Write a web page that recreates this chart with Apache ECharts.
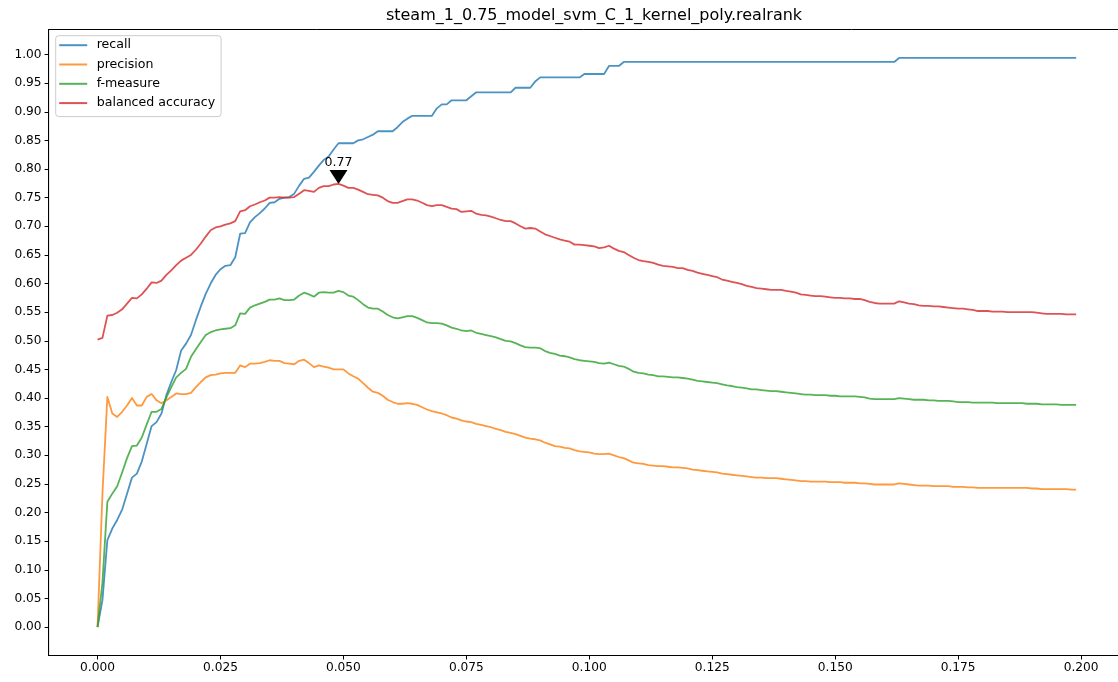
<!DOCTYPE html>
<html>
<head>
<meta charset="utf-8">
<title>steam_1_0.75_model_svm_C_1_kernel_poly.realrank</title>
<script src="https://cdn.jsdelivr.net/npm/echarts@6/dist/echarts.min.js"></script>
<style>
  html, body { margin: 0; padding: 0; background: #fff; }
  #chart { width: 1118px; height: 682px; }
</style>
</head>
<body>
<div id="chart"></div>
<script>
// Threshold (fraction of ranked items) on the x axis
const thresholds = [
  0.000, 0.001, 0.002, 0.003, 0.004, 0.005, 0.006, 0.007, 0.008, 0.009,
  0.010, 0.011, 0.012, 0.013, 0.014, 0.015, 0.016, 0.017, 0.018, 0.019,
  0.020, 0.021, 0.022, 0.023, 0.024, 0.025, 0.026, 0.027, 0.028, 0.029,
  0.030, 0.031, 0.032, 0.033, 0.034, 0.035, 0.036, 0.037, 0.038, 0.039,
  0.040, 0.041, 0.042, 0.043, 0.044, 0.045, 0.046, 0.047, 0.048, 0.049,
  0.050, 0.051, 0.052, 0.053, 0.054, 0.055, 0.056, 0.057, 0.058, 0.059,
  0.060, 0.061, 0.062, 0.063, 0.064, 0.065, 0.066, 0.067, 0.068, 0.069,
  0.070, 0.071, 0.072, 0.073, 0.074, 0.075, 0.076, 0.077, 0.078, 0.079,
  0.080, 0.081, 0.082, 0.083, 0.084, 0.085, 0.086, 0.087, 0.088, 0.089,
  0.090, 0.091, 0.092, 0.093, 0.094, 0.095, 0.096, 0.097, 0.098, 0.099,
  0.100, 0.101, 0.102, 0.103, 0.104, 0.105, 0.106, 0.107, 0.108, 0.109,
  0.110, 0.111, 0.112, 0.113, 0.114, 0.115, 0.116, 0.117, 0.118, 0.119,
  0.120, 0.121, 0.122, 0.123, 0.124, 0.125, 0.126, 0.127, 0.128, 0.129,
  0.130, 0.131, 0.132, 0.133, 0.134, 0.135, 0.136, 0.137, 0.138, 0.139,
  0.140, 0.141, 0.142, 0.143, 0.144, 0.145, 0.146, 0.147, 0.148, 0.149,
  0.150, 0.151, 0.152, 0.153, 0.154, 0.155, 0.156, 0.157, 0.158, 0.159,
  0.160, 0.161, 0.162, 0.163, 0.164, 0.165, 0.166, 0.167, 0.168, 0.169,
  0.170, 0.171, 0.172, 0.173, 0.174, 0.175, 0.176, 0.177, 0.178, 0.179,
  0.180, 0.181, 0.182, 0.183, 0.184, 0.185, 0.186, 0.187, 0.188, 0.189,
  0.190, 0.191, 0.192, 0.193, 0.194, 0.195, 0.196, 0.197, 0.198, 0.199
];

const recall = [
  0.000, 0.047, 0.152, 0.172, 0.187, 0.205, 0.233, 0.261, 0.268, 0.289,
  0.320, 0.351, 0.358, 0.373, 0.405, 0.428, 0.449, 0.483, 0.495, 0.510,
  0.536, 0.560, 0.582, 0.600, 0.615, 0.625, 0.631, 0.632, 0.646, 0.687,
  0.688, 0.707, 0.716, 0.723, 0.731, 0.741, 0.742, 0.748, 0.750, 0.751,
  0.757, 0.771, 0.783, 0.785, 0.795, 0.806, 0.816, 0.822, 0.834, 0.845,
  0.845, 0.845, 0.845, 0.850, 0.852, 0.856, 0.860, 0.866, 0.866, 0.866,
  0.866, 0.873, 0.882, 0.888, 0.893, 0.893, 0.893, 0.893, 0.893, 0.906,
  0.913, 0.913, 0.920, 0.920, 0.920, 0.920, 0.927, 0.934, 0.934, 0.934,
  0.934, 0.934, 0.934, 0.934, 0.934, 0.942, 0.942, 0.942, 0.942, 0.953,
  0.960, 0.960, 0.960, 0.960, 0.960, 0.960, 0.960, 0.960, 0.960, 0.966,
  0.966, 0.966, 0.966, 0.966, 0.980, 0.980, 0.980, 0.987, 0.987, 0.987,
  0.987, 0.987, 0.987, 0.987, 0.987, 0.987, 0.987, 0.987, 0.987, 0.987,
  0.987, 0.987, 0.987, 0.987, 0.987, 0.987, 0.987, 0.987, 0.987, 0.987,
  0.987, 0.987, 0.987, 0.987, 0.987, 0.987, 0.987, 0.987, 0.987, 0.987,
  0.987, 0.987, 0.987, 0.987, 0.987, 0.987, 0.987, 0.987, 0.987, 0.987,
  0.987, 0.987, 0.987, 0.987, 0.987, 0.987, 0.987, 0.987, 0.987, 0.987,
  0.987, 0.987, 0.987, 0.994, 0.994, 0.994, 0.994, 0.994, 0.994, 0.994,
  0.994, 0.994, 0.994, 0.994, 0.994, 0.994, 0.994, 0.994, 0.994, 0.994,
  0.994, 0.994, 0.994, 0.994, 0.994, 0.994, 0.994, 0.994, 0.994, 0.994,
  0.994, 0.994, 0.994, 0.994, 0.994, 0.994, 0.994, 0.994, 0.994, 0.994
];

const precision = [
  0.000, 0.233, 0.402, 0.373, 0.367, 0.376, 0.387, 0.400, 0.387, 0.387,
  0.402, 0.407, 0.396, 0.391, 0.396, 0.402, 0.408, 0.407, 0.407, 0.409,
  0.419, 0.428, 0.436, 0.440, 0.441, 0.443, 0.444, 0.444, 0.444, 0.457,
  0.454, 0.460, 0.460, 0.461, 0.463, 0.466, 0.465, 0.465, 0.461, 0.460,
  0.459, 0.465, 0.467, 0.461, 0.454, 0.457, 0.455, 0.453, 0.450, 0.450,
  0.450, 0.443, 0.438, 0.434, 0.426, 0.418, 0.411, 0.409, 0.404, 0.397,
  0.393, 0.390, 0.390, 0.391, 0.390, 0.388, 0.384, 0.380, 0.377, 0.375,
  0.373, 0.370, 0.366, 0.364, 0.361, 0.359, 0.358, 0.355, 0.353, 0.351,
  0.349, 0.346, 0.344, 0.341, 0.339, 0.337, 0.334, 0.331, 0.329, 0.328,
  0.326, 0.322, 0.319, 0.316, 0.315, 0.313, 0.312, 0.309, 0.307, 0.306,
  0.305, 0.303, 0.302, 0.302, 0.303, 0.300, 0.297, 0.295, 0.291, 0.287,
  0.286, 0.285, 0.283, 0.282, 0.281, 0.281, 0.280, 0.279, 0.279, 0.278,
  0.277, 0.275, 0.274, 0.273, 0.272, 0.271, 0.270, 0.268, 0.267, 0.266,
  0.265, 0.264, 0.263, 0.262, 0.261, 0.261, 0.260, 0.260, 0.260, 0.259,
  0.258, 0.257, 0.256, 0.255, 0.255, 0.254, 0.254, 0.254, 0.254, 0.253,
  0.253, 0.253, 0.252, 0.252, 0.252, 0.251, 0.251, 0.250, 0.249, 0.249,
  0.249, 0.249, 0.249, 0.251, 0.250, 0.249, 0.248, 0.247, 0.247, 0.247,
  0.246, 0.246, 0.246, 0.246, 0.245, 0.245, 0.245, 0.244, 0.244, 0.243,
  0.243, 0.243, 0.243, 0.243, 0.243, 0.243, 0.243, 0.243, 0.243, 0.243,
  0.242, 0.242, 0.241, 0.241, 0.241, 0.241, 0.241, 0.241, 0.240, 0.240
];

const fMeasure = [
  0.000, 0.078, 0.219, 0.233, 0.246, 0.270, 0.295, 0.316, 0.317, 0.331,
  0.354, 0.376, 0.376, 0.381, 0.401, 0.419, 0.436, 0.444, 0.451, 0.472,
  0.485, 0.498, 0.510, 0.515, 0.518, 0.520, 0.521, 0.522, 0.527, 0.548,
  0.547, 0.558, 0.562, 0.565, 0.568, 0.572, 0.572, 0.574, 0.571, 0.571,
  0.572, 0.579, 0.584, 0.581, 0.577, 0.584, 0.585, 0.584, 0.584, 0.587,
  0.585, 0.579, 0.577, 0.571, 0.564, 0.558, 0.556, 0.556, 0.551, 0.545,
  0.541, 0.539, 0.541, 0.543, 0.543, 0.540, 0.536, 0.532, 0.531, 0.531,
  0.530, 0.527, 0.523, 0.521, 0.518, 0.517, 0.518, 0.514, 0.512, 0.510,
  0.508, 0.506, 0.503, 0.500, 0.499, 0.496, 0.492, 0.489, 0.488, 0.488,
  0.487, 0.482, 0.479, 0.477, 0.474, 0.473, 0.471, 0.468, 0.466, 0.465,
  0.464, 0.463, 0.461, 0.460, 0.462, 0.459, 0.456, 0.455, 0.451, 0.446,
  0.444, 0.443, 0.441, 0.440, 0.438, 0.438, 0.437, 0.436, 0.436, 0.435,
  0.434, 0.432, 0.430, 0.429, 0.428, 0.427, 0.426, 0.424, 0.422, 0.421,
  0.419, 0.418, 0.417, 0.415, 0.415, 0.414, 0.413, 0.412, 0.412, 0.411,
  0.410, 0.409, 0.408, 0.407, 0.406, 0.406, 0.405, 0.405, 0.405, 0.404,
  0.404, 0.403, 0.403, 0.403, 0.403, 0.402, 0.401, 0.399, 0.398, 0.398,
  0.398, 0.398, 0.398, 0.400, 0.399, 0.398, 0.397, 0.397, 0.397, 0.396,
  0.396, 0.395, 0.395, 0.395, 0.394, 0.393, 0.393, 0.393, 0.392, 0.392,
  0.392, 0.392, 0.392, 0.391, 0.391, 0.391, 0.391, 0.391, 0.391, 0.390,
  0.390, 0.390, 0.389, 0.389, 0.389, 0.389, 0.388, 0.388, 0.388, 0.388
];

const balancedAccuracy = [
  0.502, 0.505, 0.544, 0.545, 0.549, 0.555, 0.565, 0.575, 0.574, 0.581,
  0.591, 0.602, 0.601, 0.605, 0.615, 0.623, 0.632, 0.640, 0.645, 0.650,
  0.659, 0.670, 0.682, 0.693, 0.698, 0.700, 0.703, 0.705, 0.709, 0.726,
  0.728, 0.735, 0.738, 0.742, 0.745, 0.750, 0.750, 0.751, 0.750, 0.750,
  0.751, 0.757, 0.763, 0.762, 0.760, 0.767, 0.770, 0.770, 0.773, 0.774,
  0.771, 0.767, 0.767, 0.764, 0.760, 0.756, 0.755, 0.754, 0.750, 0.744,
  0.741, 0.741, 0.744, 0.747, 0.747, 0.745, 0.741, 0.737, 0.735, 0.737,
  0.737, 0.734, 0.731, 0.730, 0.725, 0.726, 0.727, 0.722, 0.720, 0.719,
  0.717, 0.714, 0.711, 0.709, 0.709, 0.705, 0.700, 0.696, 0.697, 0.696,
  0.691, 0.686, 0.683, 0.680, 0.677, 0.675, 0.673, 0.668, 0.668, 0.667,
  0.666, 0.665, 0.662, 0.663, 0.666, 0.661, 0.657, 0.655, 0.650, 0.645,
  0.641, 0.639, 0.638, 0.636, 0.633, 0.631, 0.630, 0.629, 0.627, 0.627,
  0.624, 0.622, 0.619, 0.617, 0.615, 0.613, 0.611, 0.607, 0.605, 0.603,
  0.601, 0.599, 0.596, 0.594, 0.592, 0.591, 0.590, 0.589, 0.589, 0.589,
  0.587, 0.586, 0.584, 0.581, 0.580, 0.579, 0.578, 0.578, 0.577, 0.576,
  0.575, 0.575, 0.574, 0.574, 0.573, 0.573, 0.571, 0.568, 0.566, 0.565,
  0.565, 0.565, 0.565, 0.569, 0.567, 0.565, 0.564, 0.562, 0.561, 0.561,
  0.560, 0.560, 0.559, 0.558, 0.557, 0.556, 0.556, 0.555, 0.554, 0.552,
  0.552, 0.552, 0.551, 0.551, 0.551, 0.550, 0.550, 0.550, 0.550, 0.550,
  0.550, 0.549, 0.548, 0.547, 0.547, 0.547, 0.547, 0.546, 0.546, 0.546
];

const seriesNames = ['recall', 'precision', 'f-measure', 'balanced accuracy'];
const xTickValues = [0, 0.025, 0.05, 0.075, 0.1, 0.125, 0.15, 0.175, 0.2];
const yTickValues = [
  0, 0.05, 0.1, 0.15, 0.2, 0.25, 0.3, 0.35, 0.4, 0.45, 0.5,
  0.55, 0.6, 0.65, 0.7, 0.75, 0.8, 0.85, 0.9, 0.95, 1.0
];
const titleText = 'steam_1_0.75_model_svm_C_1_kernel_poly.realrank';

// tab10 colours drawn at 80 % opacity
const colors = [
  'rgba(31,119,180,0.8)',
  'rgba(255,127,14,0.8)',
  'rgba(44,160,44,0.8)',
  'rgba(214,39,40,0.8)'
];

const FONT = 'DejaVu Sans';

function pairs(ys) {
  return thresholds.map((x, i) => [x, ys[i]]);
}

// Best balanced accuracy, marked with a downward arrow head and its value
let bestIdx = 0;
balancedAccuracy.forEach((v, i) => { if (v > balancedAccuracy[bestIdx]) bestIdx = i; });
const bestX = thresholds[bestIdx];
const bestY = balancedAccuracy[bestIdx];

// Axis limits: data range padded by 5 % on each side
const xSpan = thresholds[thresholds.length - 1] - thresholds[0];
const xMin = thresholds[0] - 0.05 * xSpan;
const xMax = thresholds[thresholds.length - 1] + 0.05 * xSpan;
const allY = recall.concat(precision, fMeasure, balancedAccuracy);
const yLo = Math.min(...allY), yHi = Math.max(...allY);
const yMin = yLo - 0.05 * (yHi - yLo);
const yMax = yHi + 0.05 * (yHi - yLo);

const lineData = [recall, precision, fMeasure, balancedAccuracy];

const series = lineData.map((ys, k) => ({
  name: seriesNames[k],
  type: 'line',
  data: pairs(ys),
  showSymbol: false,
  symbol: 'none',
  lineStyle: { width: 1.8, color: colors[k], join: 'round', cap: 'butt' },
  itemStyle: { color: colors[k] },
  emphasis: { disabled: true },
  z: 2 + k
}));

series[3].markPoint = {
  silent: true,
  animation: false,
  symbol: 'path://M0,0 L18,0 L9,14 Z',
  symbolSize: [18, 14],
  symbolOffset: [0, -7],
  itemStyle: { color: '#000' },
  label: {
    show: true,
    position: 'inside',
    offset: [0, -14],
    color: '#000',
    fontFamily: FONT,
    fontSize: 12.6,
    formatter: (p) => p.value.toFixed(2)
  },
  data: [{ coord: [bestX, bestY], value: bestY }]
};

const chart = echarts.init(document.getElementById('chart'), null, { renderer: 'canvas' });

chart.setOption({
  animation: false,
  backgroundColor: '#fff',
  graphic: [{
    type: 'text',
    x: 594,
    y: 16,
    style: {
      text: titleText,
      fill: '#000',
      font: '16px "' + FONT + '"',
      textAlign: 'center',
      textVerticalAlign: 'middle'
    }
  }],
  legend: {
    data: seriesNames,
    orient: 'vertical',
    left: 55.7,
    top: 35.7,
    icon: 'rect',
    itemWidth: 28,
    itemHeight: 2,
    itemGap: 5.3,
    padding: [2.5, 6, 6.5, 3.5],
    backgroundColor: 'rgba(255,255,255,0.8)',
    borderColor: '#cccccc',
    borderWidth: 1,
    borderRadius: 3,
    selectedMode: false,
    textStyle: {
      color: '#000',
      fontFamily: FONT,
      fontSize: 12.6,
      lineHeight: 14,
      padding: [0, 0, 0, 4.5]
    }
  },
  grid: {
    left: 48.6,
    top: 29.5,
    width: 1076.5,
    height: 626,
    show: true,
    borderColor: '#000',
    borderWidth: 1,
    backgroundColor: 'transparent',
    containLabel: false,
    outerBoundsMode: 'none'
  },
  xAxis: {
    type: 'value',
    min: xMin,
    max: xMax,
    axisLine: { show: true, onZero: false, lineStyle: { color: '#000', width: 1 } },
    axisTick: { show: true, length: 4, lineStyle: { color: '#000', width: 1 }, customValues: xTickValues },
    axisLabel: {
      show: true,
      customValues: xTickValues,
      margin: 6,
      color: '#000',
      fontFamily: FONT,
      fontSize: 12.2,
      formatter: (v) => v.toFixed(3)
    },
    splitLine: { show: false }
  },
  yAxis: {
    type: 'value',
    min: yMin,
    max: yMax,
    axisLine: { show: true, onZero: false, lineStyle: { color: '#000', width: 1 } },
    axisTick: { show: true, length: 4, lineStyle: { color: '#000', width: 1 }, customValues: yTickValues },
    axisLabel: {
      show: true,
      customValues: yTickValues,
      margin: 7,
      color: '#000',
      fontFamily: FONT,
      fontSize: 12.2,
      formatter: (v) => v.toFixed(2)
    },
    splitLine: { show: false }
  },
  series: series
});
</script>
</body>
</html>
